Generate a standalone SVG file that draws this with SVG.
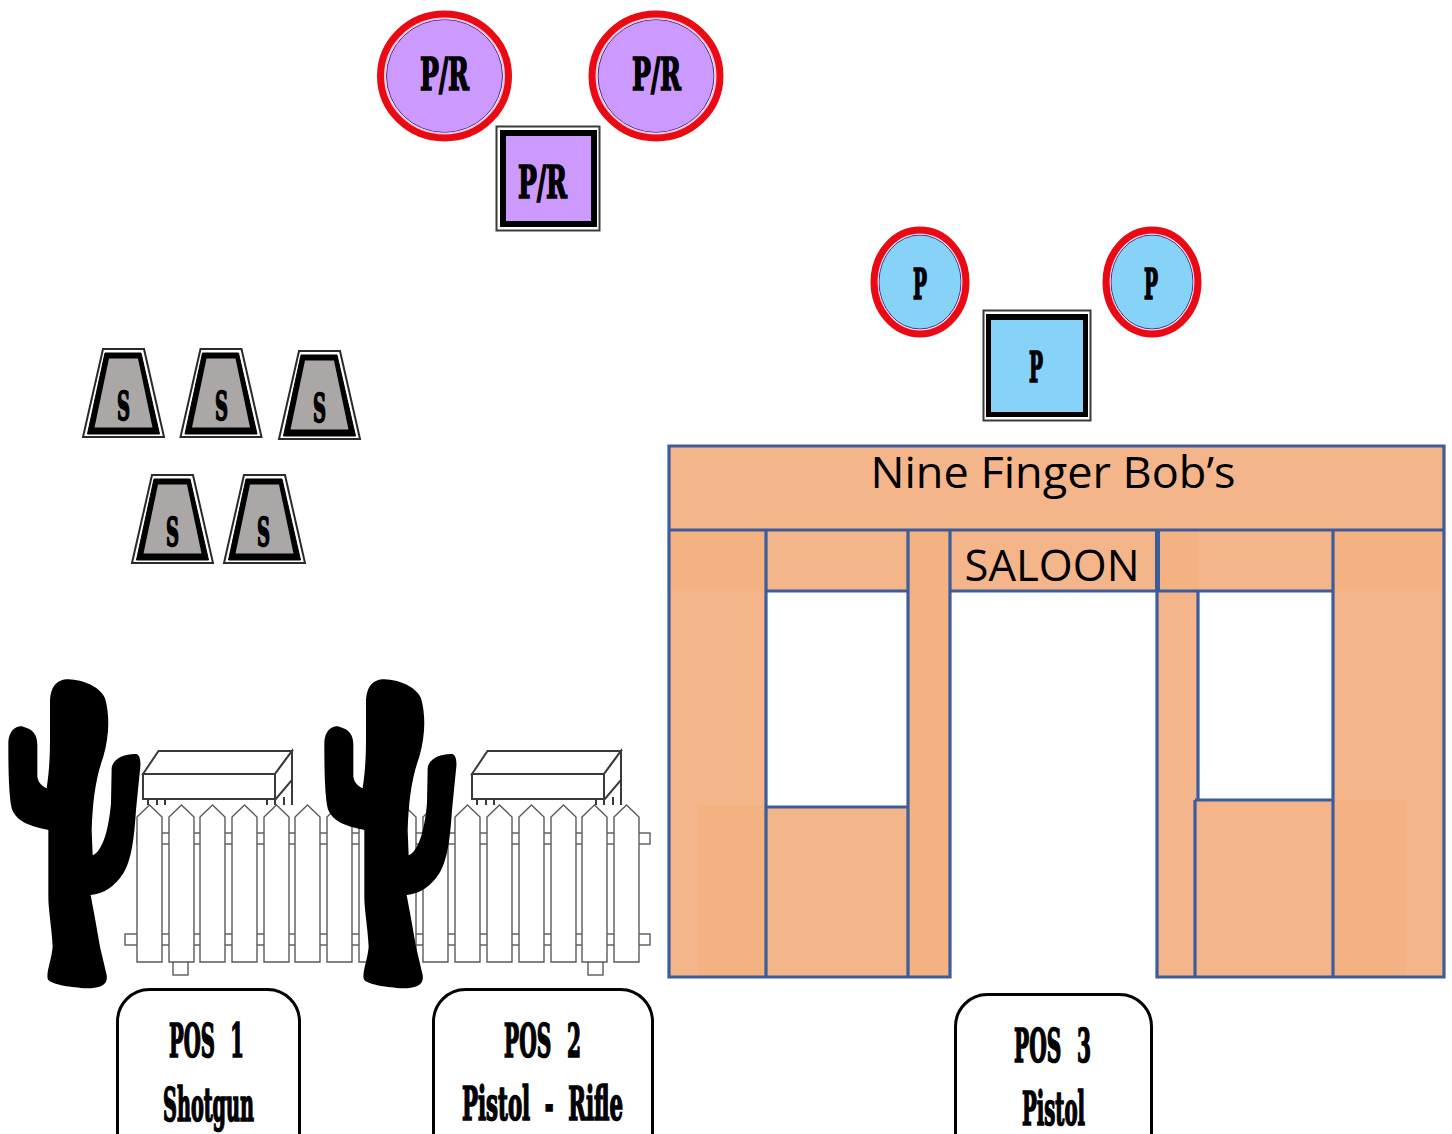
<svg xmlns="http://www.w3.org/2000/svg" width="1452" height="1134" viewBox="0 0 1452 1134">
<style>
.w{font-family:"DejaVu Serif Condensed","DejaVu Serif","Liberation Serif",serif;font-weight:bold;fill:#000;stroke:#000;stroke-width:1.7;text-anchor:start}
.s{font-family:"Open Sans","Noto Sans","Liberation Sans",sans-serif;fill:#000}
.f{fill:#f4b58a}.d{fill:#f4b181}
.e{fill:none;stroke:#3c5d9c;stroke-width:3.2}
.b{fill:#fff;stroke:#000;stroke-width:3}
.fl{fill:#fff;stroke:#5a5a5a;stroke-width:1.4}
.bn{fill:#fff;stroke:#3a3a3a;stroke-width:2}
.sq{fill:#fff;stroke:#3a3a3a;stroke-width:2}
.rr{fill:none;stroke:#ea0a14;stroke-width:7}
.rw{fill:none;stroke:#f3c6dc;stroke-width:2.5}
.rn{stroke:#4a3090;stroke-width:1}
.pu{fill:#cc99ff}.bl{fill:#87d3f8}
</style>
<defs>
<path id="picket" class="fl" d="M0 12L12.500 0L25 12V157H0Z"/>
<g id="bench">
<path class="bn" stroke-width="1" d="M148 797V805M157 797V805M165 797V805M267 797V805M275 797V805M284 797V805M292 780V805"/>
<path class="bn" d="M143 774L158.500 751H292L275 774Z"/>
<path class="bn" d="M275 774L292 751V780L275 800Z"/>
<rect class="bn" x="143" y="774" width="132" height="25"/>
</g>
<g id="trap">
<polygon points="20,0 61,0 81,88 0,88" fill="#fff" stroke="#2a2a2a" stroke-width="2"/>
<polygon points="22,4 58,4 76.500,85 4.500,85" fill="#000" stroke="#000" stroke-width="1"/>
<polygon points="26,9.500 55,9.500 69.500,78.500 11.500,78.500" fill="#aba7a6"/>
</g>
<path id="cactus" fill="#000" transform="translate(0,670) scale(.3333)" d="M150 100C150 50 170 28 205 28C250 30 300 50 315 85C328 130 330 190 310 260C285 330 278 400 275 480L278 556C305 545 325 490 333 400L335 295C338 265 375 250 410 252C422 258 423 280 420 300L408 420C403 500 395 570 370 610C345 650 310 672 272 675L285 745L300 830L320 915C325 945 300 955 260 955C215 952 160 945 145 930C135 915 155 870 158 830C155 770 145 720 145 680L145 480C100 470 50 460 35 415C25 370 25 270 25 215C28 180 50 165 70 170C100 178 112 195 112 225L112 320C115 340 130 350 140 355C148 300 150 260 150 200Z"/>
</defs>
<rect width="1452" height="1134" fill="#fff"/>

<g id="pr-targets">
<g id="pr-circle-left">
<ellipse class="pu rn" cx="444.500" cy="76" rx="58" ry="56.500"/>
<ellipse class="rw" cx="444.500" cy="76" rx="60" ry="58"/>
<ellipse class="rr" cx="444.500" cy="76" rx="64" ry="62"/>
<text class="w" x="420" y="90" font-size="45" textLength="49" lengthAdjust="spacingAndGlyphs">P/R</text>
</g>
<g id="pr-circle-right">
<ellipse class="pu rn" cx="656" cy="76" rx="58" ry="56.500"/>
<ellipse class="rw" cx="656" cy="76" rx="60" ry="58"/>
<ellipse class="rr" cx="656" cy="76" rx="64" ry="62"/>
<text class="w" x="632" y="90" font-size="45" textLength="49" lengthAdjust="spacingAndGlyphs">P/R</text>
</g>
<g id="pr-square">
<rect class="sq" x="496.500" y="126.500" width="103" height="104"/>
<rect x="500" y="130" width="97" height="97" fill="#000"/>
<rect class="pu" x="506" y="136" width="85" height="85"/>
<text class="w" x="518" y="198" font-size="45" textLength="49" lengthAdjust="spacingAndGlyphs">P/R</text>
</g>
</g>

<g id="p-targets">
<g id="p-circle-left">
<ellipse class="bl rn" cx="920" cy="282" rx="41" ry="47"/>
<ellipse class="rw" cx="920" cy="282" rx="43" ry="49"/>
<ellipse class="rr" cx="920" cy="282" rx="46" ry="52"/>
<text class="w" x="913" y="299" font-size="42" textLength="14" lengthAdjust="spacingAndGlyphs">P</text>
</g>
<g id="p-circle-right">
<ellipse class="bl rn" cx="1152" cy="282" rx="41" ry="47"/>
<ellipse class="rw" cx="1152" cy="282" rx="43" ry="49"/>
<ellipse class="rr" cx="1152" cy="282" rx="46" ry="52"/>
<text class="w" x="1144" y="299" font-size="42" textLength="14" lengthAdjust="spacingAndGlyphs">P</text>
</g>
<g id="p-square">
<rect class="sq" x="983.500" y="310.500" width="107" height="110"/>
<rect x="986" y="314" width="102" height="103" fill="#000"/>
<rect class="bl" x="991" y="320" width="92" height="92"/>
<text class="w" x="1029" y="382" font-size="42" textLength="14" lengthAdjust="spacingAndGlyphs">P</text>
</g>
</g>

<g id="s-targets">
<g id="s1"><use href="#trap" x="83" y="349"/><text class="w" x="117" y="420" font-size="40" textLength="13" lengthAdjust="spacingAndGlyphs">S</text></g>
<g id="s2"><use href="#trap" x="180.500" y="349"/><text class="w" x="215" y="420" font-size="40" textLength="13" lengthAdjust="spacingAndGlyphs">S</text></g>
<g id="s3"><use href="#trap" x="279" y="351"/><text class="w" x="313" y="422" font-size="40" textLength="13" lengthAdjust="spacingAndGlyphs">S</text></g>
<g id="s4"><use href="#trap" x="132" y="475"/><text class="w" x="166" y="546" font-size="40" textLength="13" lengthAdjust="spacingAndGlyphs">S</text></g>
<g id="s5"><use href="#trap" x="224" y="475"/><text class="w" x="257" y="546" font-size="40" textLength="13" lengthAdjust="spacingAndGlyphs">S</text></g>
</g>

<g id="saloon">
<rect class="f" x="669" y="446" width="775" height="84"/>
<rect class="d" x="669" y="530" width="97" height="61"/>
<rect class="f" x="669" y="591" width="97" height="386"/>
<rect class="d" x="698" y="806" width="68" height="171"/>
<rect class="f" x="766" y="530" width="142" height="61"/>
<rect class="f" x="766" y="807" width="142" height="170"/>
<rect class="d" x="908" y="530" width="42" height="447"/>
<rect class="f" x="950" y="530" width="207" height="61"/>
<rect class="d" x="1157" y="530" width="41" height="61"/>
<rect class="f" x="1198" y="530" width="135" height="61"/>
<rect class="f" x="1157" y="591" width="40" height="386"/>
<rect class="f" x="1195" y="800" width="138" height="177"/>
<rect class="d" x="1333" y="530" width="111" height="61"/>
<rect class="f" x="1333" y="591" width="111" height="386"/>
<rect class="d" x="1333" y="800" width="72" height="177"/>
<path class="e" d="M669 446H1444V977H1157V591H950V977H669ZM669 530H1444M766 530V977M908 530V977M950 530V591M766 591H908M766 807H908M1198 591V800M1195 800H1333V977M1195 800V977M1333 530V977M1157 591H1333"/>
<path d="M1157.500 530V591" stroke="#3c5d9c" stroke-width="5" fill="none"/>
<text class="s" x="870.500" y="488" font-size="44" textLength="365" lengthAdjust="spacingAndGlyphs">Nine Finger Bob’s</text>
<text class="s" x="964.500" y="581" font-size="44" textLength="175" lengthAdjust="spacingAndGlyphs">SALOON</text>
</g>

<g id="fence">
<use href="#bench"/>
<use href="#bench" x="329"/>
<rect class="fl" x="125" y="934" width="525" height="11"/>
<rect class="fl" x="137" y="833" width="513" height="11"/>
<rect class="fl" x="173" y="960" width="15" height="15"/>
<rect class="fl" x="588" y="960" width="15" height="15"/>
<use href="#picket" x="137" y="805"/><use href="#picket" x="169" y="805"/><use href="#picket" x="200" y="805"/><use href="#picket" x="232" y="805"/>
<use href="#picket" x="264" y="805"/><use href="#picket" x="295" y="805"/><use href="#picket" x="327" y="805"/><use href="#picket" x="359" y="805"/>
<use href="#picket" x="391" y="805"/><use href="#picket" x="423" y="805"/><use href="#picket" x="455" y="805"/><use href="#picket" x="487" y="805"/>
<use href="#picket" x="519" y="805"/><use href="#picket" x="551" y="805"/><use href="#picket" x="582" y="805"/><use href="#picket" x="614" y="805"/>
</g>

<g id="cactus-1"><use href="#cactus"/></g>
<g id="cactus-2"><use href="#cactus" x="316"/></g>

<g id="pos-1">
<rect class="b" x="117.500" y="989.500" width="182" height="190" rx="32"/>
<text class="w" x="169" y="1057" font-size="46" textLength="75" lengthAdjust="spacingAndGlyphs" word-spacing="18">POS 1</text>
<text class="w" x="163" y="1121" font-size="46" textLength="91" lengthAdjust="spacingAndGlyphs">Shotgun</text>
</g>
<g id="pos-2">
<rect class="b" x="433.500" y="989.500" width="219" height="190" rx="32"/>
<text class="w" x="504" y="1057" font-size="46" textLength="77" lengthAdjust="spacingAndGlyphs" word-spacing="18">POS 2</text>
<text class="w" x="462" y="1120" font-size="46" textLength="161" lengthAdjust="spacingAndGlyphs" word-spacing="14">Pistol - Rifle</text>
</g>
<g id="pos-3">
<rect class="b" x="955.500" y="994.500" width="196" height="190" rx="32"/>
<text class="w" x="1014" y="1062" font-size="46" textLength="77" lengthAdjust="spacingAndGlyphs" word-spacing="18">POS 3</text>
<text class="w" x="1022" y="1125" font-size="46" textLength="63" lengthAdjust="spacingAndGlyphs">Pistol</text>
</g>
</svg>
